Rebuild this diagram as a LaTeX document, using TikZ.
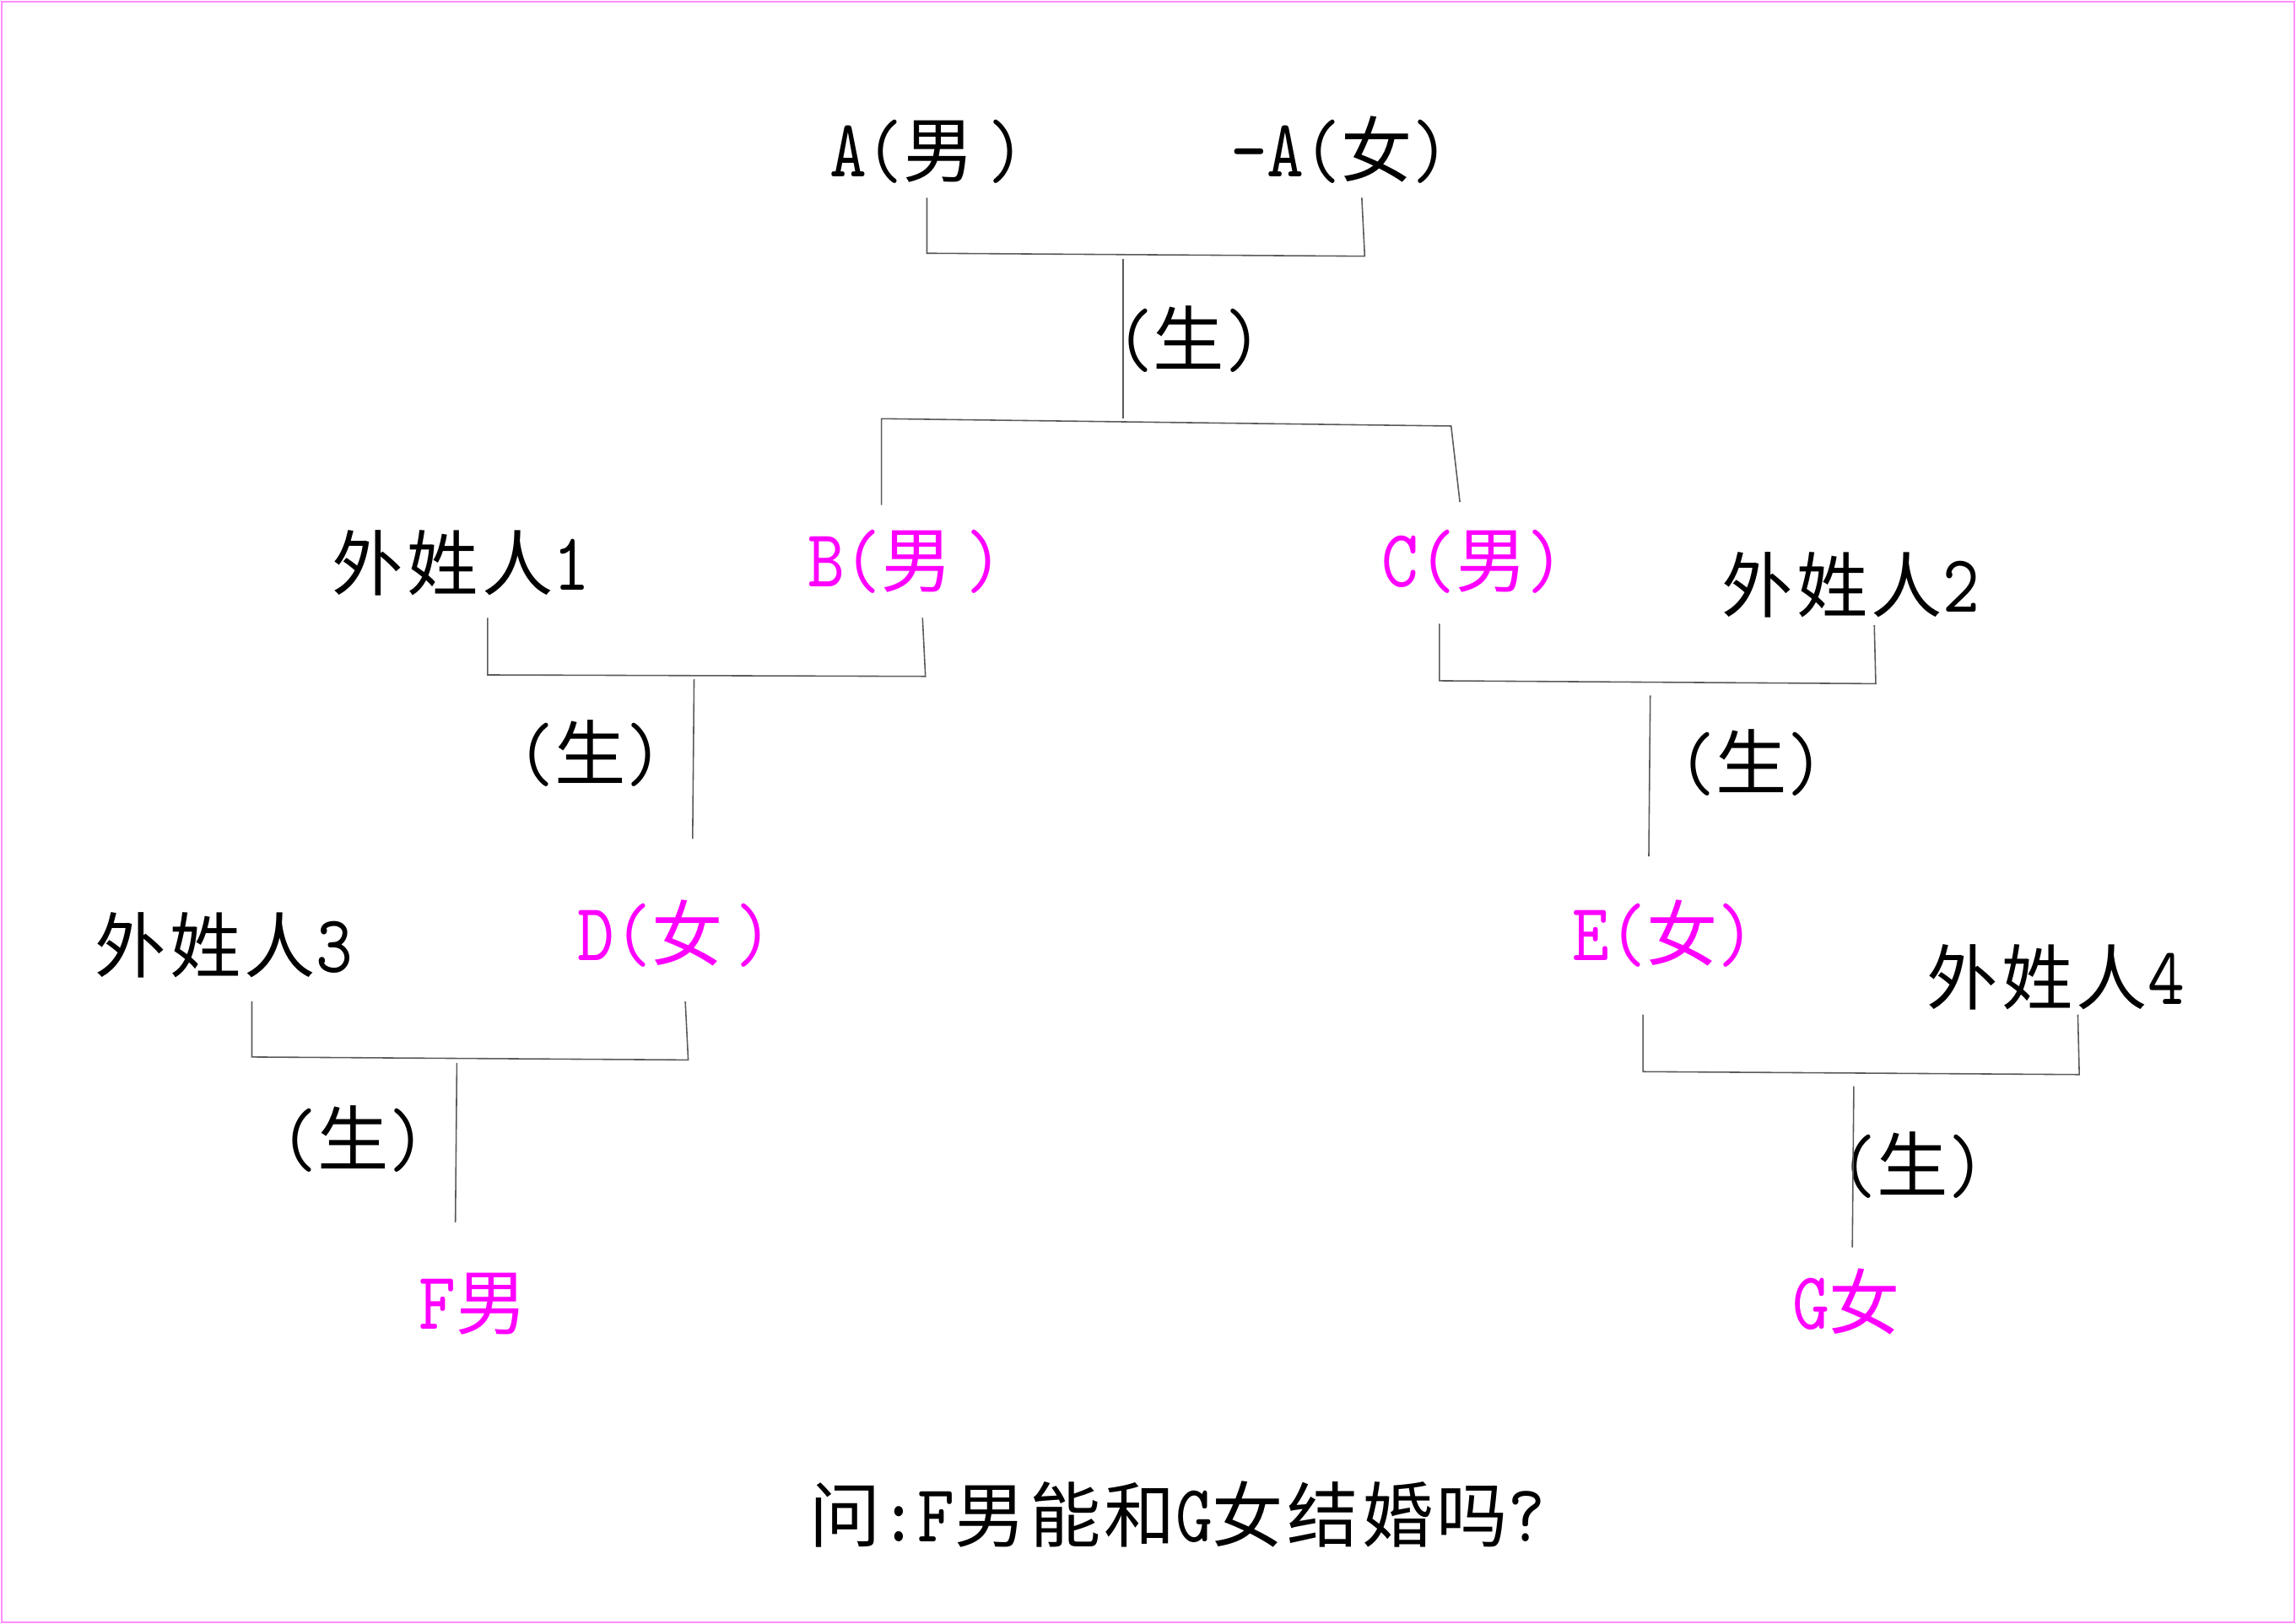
\documentclass[tikz,border=0pt]{standalone}
\usepackage{fontspec}
\setmainfont{lmmono10-regular.otf}[FakeStretch=0.86,Scale=1.15]
\newfontfamily\cjk{Noto Sans CJK SC}[LetterSpace=5]
\newcommand{\zhtxt}[1]{{\cjk #1}}
\definecolor{mag}{RGB}{255,0,255}
\definecolor{framepink}{RGB}{255,140,255}
\definecolor{linegray}{RGB}{90,90,90}
\begin{document}
\begin{tikzpicture}[x=0.017353cm,y=-0.017353cm,
  lbl/.style={anchor=base,inner sep=0pt,font=\fontsize{24pt}{28pt}\selectfont},
  pink/.style={lbl,text=mag},
  link/.style={draw=linegray,line width=0.45pt}]
\useasboundingbox (0,0) rectangle (1568,1109);
\draw[framepink,line width=0.6pt] (1,1) rectangle (1567,1108);
% texts
\node[lbl]  (tA)  at (633,121)  {A(\zhtxt{男}\hspace{0.15cm})};
\node[lbl]  (tAw) at (915,121)  {-A(\zhtxt{女})};
\node[lbl]  (s1)  at (812,250)  {(\zhtxt{生})};
\node[lbl]  (w1)  at (315,403)  {\zhtxt{外姓人}1};
\node[pink] (tB)  at (618,401)  {B(\zhtxt{男}\hspace{0.15cm})};
\node[pink] (tC)  at (1006,401) {C(\zhtxt{男})};
\node[lbl]  (w2)  at (1264,418) {\zhtxt{外姓人}2};
\node[lbl]  (s2)  at (403,533)  {(\zhtxt{生})};
\node[lbl]  (s3)  at (1196,539) {(\zhtxt{生})};
\node[lbl]  (w3)  at (153,664)  {\zhtxt{外姓人}3};
\node[pink] (tD)  at (461,656)  {D(\zhtxt{女}\hspace{0.15cm})};
\node[pink] (tE)  at (1136,656) {E(\zhtxt{女})};
\node[lbl]  (w4)  at (1404,686) {\zhtxt{外姓人}4};
\node[lbl]  (s4)  at (241,796)  {(\zhtxt{生})};
\node[lbl]  (s5)  at (1306,814) {(\zhtxt{生})};
\node[pink] (tF)  at (323,908)  {F\zhtxt{男}};
\node[pink] (tG)  at (1261,908) {G\zhtxt{女}};
\node[lbl]  (q)   at (804,1053) {\zhtxt{问}:F\zhtxt{男能和}G\zhtxt{女结婚吗}?};
% bracket 1 (A + -A)
\coordinate (a1) at (633,135); \coordinate (a2) at (633,173);
\coordinate (a3) at (932,175); \coordinate (a4) at (930,135);
\coordinate (a5) at (767,177); \coordinate (a6) at (767,286);
\draw[link] (a1) -- (a2) -- (a3) -- (a4);
\draw[link] (a5) -- (a6);
% bracket 2 (children B, C)
\coordinate (b1) at (602,345); \coordinate (b2) at (602,286);
\coordinate (b3) at (991,291); \coordinate (b4) at (997,343);
\draw[link] (b1) -- (b2) -- (b3) -- (b4);
% bracket 3 (outsider 1 + B)
\coordinate (c1) at (333,422); \coordinate (c2) at (333,461);
\coordinate (c3) at (632,462); \coordinate (c4) at (630,422);
\coordinate (c5) at (474,464); \coordinate (c6) at (473,573);
\draw[link] (c1) -- (c2) -- (c3) -- (c4);
\draw[link] (c5) -- (c6);
% bracket 4 (C + outsider 2)
\coordinate (d1) at (983,426); \coordinate (d2) at (983,465);
\coordinate (d3) at (1281,467); \coordinate (d4) at (1280,427);
\coordinate (d5) at (1127,475); \coordinate (d6) at (1126,585);
\draw[link] (d1) -- (d2) -- (d3) -- (d4);
\draw[link] (d5) -- (d6);
% bracket 5 (outsider 3 + D)
\coordinate (e1) at (172,684); \coordinate (e2) at (172,722);
\coordinate (e3) at (470,724); \coordinate (e4) at (468,684);
\coordinate (e5) at (312,726); \coordinate (e6) at (311,835);
\draw[link] (e1) -- (e2) -- (e3) -- (e4);
\draw[link] (e5) -- (e6);
% bracket 6 (E + outsider 4)
\coordinate (f1) at (1122,693); \coordinate (f2) at (1122,732);
\coordinate (f3) at (1420,734); \coordinate (f4) at (1419,693);
\coordinate (f5) at (1266,742); \coordinate (f6) at (1265,852);
\draw[link] (f1) -- (f2) -- (f3) -- (f4);
\draw[link] (f5) -- (f6);
\end{tikzpicture}
\end{document}
